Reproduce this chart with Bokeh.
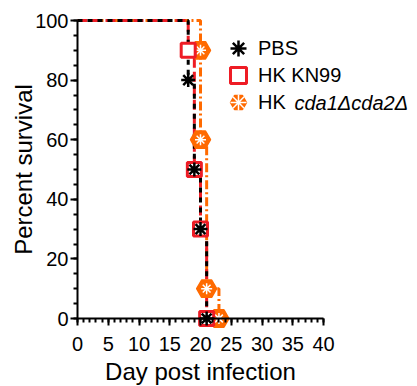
from bokeh.plotting import figure
from bokeh.models import Range1d, Legend, LegendItem, Label, FixedTicker
from bokeh.embed import file_html
from bokeh.resources import INLINE

# Kaplan-Meier survival data (day, percent survival)
pbs_days = [0, 18, 19, 20, 21]
pbs_surv = [100, 80, 50, 30, 0]
kn99_days = [0, 18, 19, 20, 21]
kn99_surv = [100, 90, 50, 30, 0]
cda_days = [0, 20, 20, 21, 23]
cda_surv = [100, 90, 60, 10, 0]

series_labels = ["PBS", "HK KN99", "HK", "cda1Δcda2Δ"]
x_ticks = [0, 5, 10, 15, 20, 25, 30, 35, 40]
x_minor = list(range(0, 41))
y_ticks = [0, 20, 40, 60, 80, 100]
y_minor = list(range(0, 101, 5))

RED = "#ee1c25"
ORANGE = "#ff6a00"
FONT = "Liberation Sans"

# the frame covers the whole canvas (axes are placed at fixed data locations),
# so that nothing outside the axes box gets clipped
PX_PER_DAY = 246 / 40.0
PX_PER_PCT = 298 / 100.0
X_MIN = -77 / PX_PER_DAY
X_MAX = (417 - 77) / PX_PER_DAY
Y_MIN = -(386 - 318) / PX_PER_PCT
Y_MAX = 318 / PX_PER_PCT

p = figure(width=417, height=386, x_range=Range1d(X_MIN, X_MAX), y_range=Range1d(Y_MIN, Y_MAX),
           output_backend="svg", toolbar_location=None,
           min_border_left=0, min_border_right=0, min_border_top=0, min_border_bottom=0)
p.grid.visible = False
p.outline_line_color = None
p.background_fill_color = "white"
p.border_fill_color = "white"

p.xaxis.fixed_location = 0
p.yaxis.fixed_location = 0
p.xaxis.bounds = (0, 40)
p.yaxis.bounds = (0, 100)
p.xaxis.ticker = FixedTicker(ticks=x_ticks, minor_ticks=x_minor)
p.yaxis.ticker = FixedTicker(ticks=y_ticks, minor_ticks=y_minor)

for ax in (p.xaxis, p.yaxis):
    ax.axis_line_width = 2
    ax.axis_line_color = "black"
    ax.major_tick_line_width = 2
    ax.minor_tick_line_width = 2
    ax.major_tick_line_color = "black"
    ax.minor_tick_line_color = "black"
    ax.major_tick_out = 7
    ax.major_tick_in = 0
    ax.minor_tick_out = 4
    ax.minor_tick_in = 0
    ax.major_label_text_font = FONT
    ax.major_label_text_font_size = "20px"
    ax.major_label_text_color = "black"
    ax.axis_label_text_font = FONT
    ax.axis_label_text_font_size = "24px"
    ax.axis_label_text_font_style = "normal"
    ax.axis_label_text_color = "black"

p.xaxis.axis_label = "Day post infection"
p.yaxis.axis_label = "Percent survival"
p.xaxis.major_label_standoff = 11
p.yaxis.major_label_standoff = 2
p.xaxis.axis_label_standoff = 4
p.yaxis.axis_label_standoff = -5

# lines
cda_line = p.step(cda_days, cda_surv, mode="after", line_color=ORANGE, line_width=3,
                  line_dash="9 3 2 3")
kn99_line = p.step(kn99_days, kn99_surv, mode="after", line_color=RED, line_width=3,
                   line_dash="10 4")
pbs_line = p.step(pbs_days, pbs_surv, mode="after", line_color="black", line_width=3,
                  line_dash="5 5")

# markers
cda_hex = p.scatter(cda_days[1:], cda_surv[1:], marker="hex", size=20,
                    fill_color=ORANGE, line_color=ORANGE, line_width=1.5)
cda_star = p.scatter(cda_days[1:], cda_surv[1:], marker="asterisk", size=11,
                     line_color="white", line_width=1.5)
kn99_sq = p.scatter(kn99_days[1:], kn99_surv[1:], marker="square", size=14,
                    fill_color="white", line_color=RED, line_width=3)
pbs_pts = p.scatter(pbs_days[1:], pbs_surv[1:], marker="asterisk", size=14,
                    line_color="black", line_width=2.5)


def add_key(label, renderers, top_px):
    lg = Legend(items=[LegendItem(label=label, renderers=renderers)],
                location=(218, 386 - (top_px + 40)))
    lg.border_line_color = None
    lg.background_fill_alpha = 0
    lg.padding = 0
    lg.margin = 0
    lg.spacing = 0
    lg.glyph_width = 40
    lg.glyph_height = 40
    lg.label_height = 20
    lg.label_standoff = 0
    lg.label_text_font = FONT
    lg.label_text_font_size = "20px"
    lg.label_text_color = "black"
    p.add_layout(lg)


add_key(series_labels[0], [pbs_pts], 28)
add_key(series_labels[1], [kn99_sq], 55)
add_key(series_labels[2], [cda_hex, cda_star], 82)

p.add_layout(Label(x=294, y=386 - 102, x_units="screen", y_units="screen", text=series_labels[3],
                   text_font=FONT, text_font_size="20px", text_font_style="italic",
                   text_baseline="middle", text_color="black"))

open("out.html", "w").write(file_html(p, INLINE))
